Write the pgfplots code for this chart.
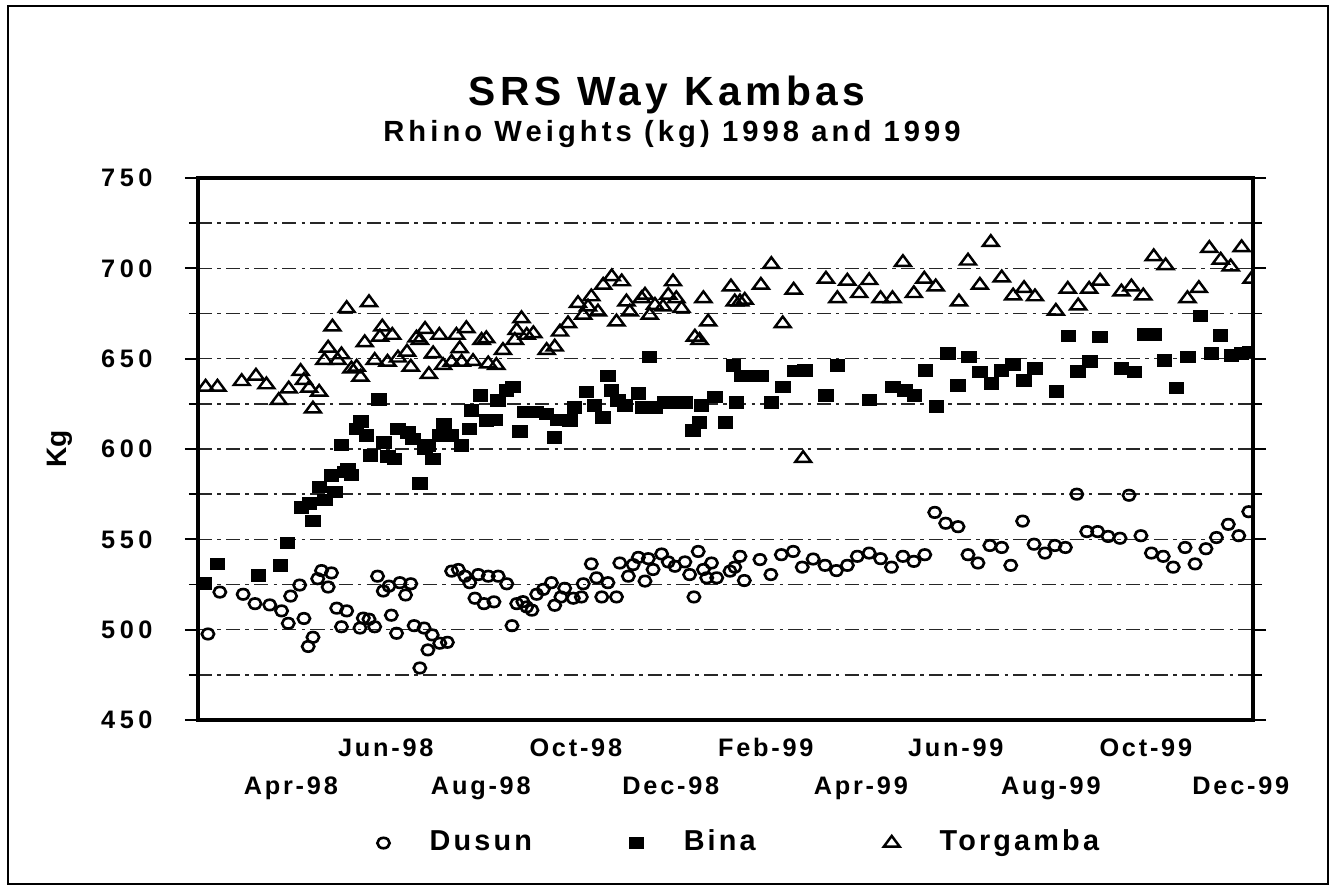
\documentclass[border=0pt]{standalone}
\usepackage{fontspec}
\setmainfont{Liberation Sans}
\newfontfamily\titlefont[LetterSpace=11]{Liberation Sans}
\newfontfamily\subfont[LetterSpace=14]{Liberation Sans}
\newfontfamily\ytfont[LetterSpace=18]{Liberation Sans}
\newfontfamily\legfont[LetterSpace=11]{Liberation Sans}
\usepackage{pgfplots}
\pgfplotsset{compat=1.18}

\pgfplotstableread{
m v
1.34 497.6
1.59 520.8
2.08 519.6
2.33 514.4
2.64 513.7
2.89 510.4
3.03 503.5
3.08 518.6
3.27 524.7
3.36 506.2
3.45 490.7
3.55 495.8
3.65 528.2
3.73 532.7
3.87 523.6
3.94 531.4
4.05 511.9
4.15 501.6
4.26 510.4
4.54 500.9
4.61 506.4
4.73 505.8
4.85 501.6
4.91 529.6
5.03 521.4
5.15 524.1
5.20 508.0
5.31 498.0
5.38 526.0
5.50 519.2
5.61 525.4
5.68 502.2
5.80 478.8
5.89 500.9
5.97 488.8
6.06 497.1
6.22 492.5
6.38 493.0
6.47 532.4
6.61 533.3
6.75 529.6
6.85 526.0
6.96 517.4
7.03 530.5
7.15 514.4
7.24 529.6
7.36 515.4
7.45 529.6
7.63 525.4
7.74 502.2
7.84 514.4
7.97 515.5
8.05 512.6
8.16 510.8
8.26 519.6
8.40 522.3
8.57 526.0
8.64 513.5
8.77 518.1
8.85 522.9
9.03 517.4
9.20 518.1
9.24 525.4
9.41 536.4
9.52 528.7
9.63 518.1
9.76 526.0
9.94 518.1
10.01 536.9
10.19 529.6
10.29 536.0
10.40 540.0
10.54 526.9
10.61 539.3
10.71 533.3
10.89 541.9
11.03 537.5
11.17 535.1
11.38 537.5
11.48 530.5
11.57 518.1
11.66 543.3
11.77 533.3
11.84 528.7
11.94 536.9
12.05 528.7
12.33 532.4
12.43 534.6
12.54 540.6
12.63 527.2
12.96 538.8
13.19 530.5
13.41 541.5
13.66 543.3
13.85 534.6
14.08 539.1
14.33 535.6
14.57 532.7
14.80 535.6
15.01 540.6
15.26 542.4
15.50 539.3
15.73 534.6
15.97 540.6
16.20 537.8
16.43 541.5
16.64 564.9
16.87 558.9
17.13 557.0
17.34 541.5
17.55 536.9
17.80 546.6
18.05 545.5
18.24 535.6
18.49 560.1
18.73 547.3
18.96 542.4
19.17 546.6
19.39 545.5
19.63 575.0
19.84 554.3
20.07 554.3
20.29 551.6
20.54 550.6
20.73 574.4
20.98 552.0
21.20 542.4
21.45 540.6
21.66 534.6
21.91 545.5
22.12 536.4
22.35 544.8
22.57 551.0
22.82 558.3
23.04 552.0
23.25 565.3
}\dusun

\pgfplotstableread{
m v
1.27 525.4
1.54 536.4
2.40 530.0
2.87 535.5
3.01 547.9
3.31 567.5
3.48 569.8
3.55 560.1
3.69 579.0
3.80 571.7
3.94 585.4
4.01 576.2
4.15 602.2
4.22 587.2
4.29 588.9
4.36 585.7
4.47 611.1
4.56 615.2
4.68 607.4
4.76 596.3
4.94 627.4
5.05 603.7
5.13 596.0
5.27 594.4
5.34 611.1
5.55 609.3
5.66 605.6
5.80 580.8
5.91 600.0
5.98 601.9
6.08 594.4
6.22 607.4
6.31 613.9
6.47 607.4
6.68 601.9
6.85 611.1
6.89 621.3
7.08 629.6
7.20 615.7
7.38 616.0
7.45 626.9
7.63 632.4
7.76 634.3
7.91 609.6
8.01 620.4
8.26 620.4
8.47 619.4
8.64 606.5
8.71 616.0
8.96 615.7
9.06 623.1
9.31 631.5
9.48 624.1
9.66 617.6
9.76 640.4
9.84 632.4
9.97 626.9
10.12 624.1
10.40 630.6
10.50 623.1
10.64 650.9
10.75 623.1
10.96 625.9
11.17 625.9
11.38 625.9
11.55 610.2
11.69 614.8
11.73 624.1
12.01 628.7
12.24 614.8
12.40 646.3
12.47 625.9
12.57 640.4
12.78 640.4
12.99 640.4
13.20 625.9
13.45 634.3
13.69 643.1
13.91 643.5
14.35 629.6
14.59 646.3
15.27 627.2
15.76 634.3
16.01 632.4
16.21 629.6
16.45 643.5
16.68 623.5
16.92 652.8
17.13 635.2
17.36 650.9
17.59 642.6
17.84 636.1
18.05 643.5
18.29 646.7
18.52 638.0
18.75 644.4
19.20 631.9
19.45 662.6
19.66 643.0
19.91 648.5
20.12 662.0
20.57 644.4
20.84 642.6
21.06 663.3
21.27 663.3
21.48 649.1
21.73 633.7
21.97 650.9
22.24 673.7
22.47 652.8
22.66 663.0
22.89 651.9
23.10 652.8
23.27 653.7
}\bina

\pgfplotstableread{
m v
1.29 634.3
1.54 634.3
2.05 637.4
2.35 640.4
2.57 635.6
2.83 626.9
3.04 633.3
3.29 643.0
3.36 638.0
3.47 633.7
3.55 622.2
3.68 631.5
3.79 649.1
3.87 655.9
3.96 667.6
4.07 649.1
4.15 652.2
4.26 677.8
4.36 644.4
4.47 645.4
4.55 639.8
4.64 658.9
4.73 681.1
4.85 649.1
4.96 662.0
5.01 667.6
5.12 648.1
5.22 663.0
5.34 650.4
5.53 653.7
5.61 645.4
5.73 661.5
5.80 660.2
5.91 666.3
5.99 641.3
6.08 652.8
6.21 663.0
6.29 646.3
6.47 648.1
6.57 663.0
6.64 655.6
6.68 648.1
6.78 666.7
6.92 648.5
7.10 660.2
7.20 661.1
7.24 647.2
7.41 646.3
7.55 654.6
7.80 660.2
7.84 665.7
7.94 672.2
8.05 663.0
8.19 663.9
8.47 654.6
8.64 656.5
8.75 664.8
8.92 669.4
9.13 680.6
9.24 674.1
9.34 678.7
9.41 684.3
9.55 675.9
9.66 690.7
9.84 695.4
9.94 670.4
10.05 692.6
10.15 681.5
10.22 675.9
10.47 683.3
10.54 685.2
10.64 674.1
10.75 679.6
10.92 678.7
11.03 685.2
11.13 692.6
11.20 683.3
11.31 677.8
11.59 662.0
11.69 660.2
11.77 683.3
11.87 670.4
12.35 689.8
12.43 681.5
12.54 681.5
12.64 682.4
12.98 690.7
13.20 702.2
13.44 669.4
13.67 688.0
13.87 594.8
14.35 694.1
14.59 683.3
14.80 693.0
15.05 686.1
15.26 693.3
15.50 683.3
15.75 683.3
15.97 703.3
16.20 686.1
16.42 694.1
16.66 689.8
17.15 681.5
17.34 704.1
17.59 690.7
17.82 714.4
18.05 694.8
18.29 684.8
18.52 688.9
18.75 684.3
19.19 676.3
19.44 688.5
19.66 679.3
19.89 688.5
20.12 693.0
20.57 687.0
20.78 689.8
21.03 684.8
21.25 706.5
21.50 701.5
21.96 683.3
22.20 688.9
22.42 711.1
22.66 704.6
22.87 700.9
23.10 711.5
23.31 694.1
}\torgamba

\begin{document}
\begin{tikzpicture}
\path[use as bounding box] (0,0) rectangle (13.34cm,8.92cm);
\draw[line width=0.6pt] (0.08cm,0.08cm) rectangle (13.28cm,8.86cm);
\node[font=\titlefont\bfseries\fontsize{11.6}{13}\selectfont, anchor=base, inner sep=0pt] at (6.67cm,7.86cm) {SRS Way Kambas};
\node[font=\subfont\bfseries\fontsize{8.3}{10}\selectfont, anchor=base, inner sep=0pt] at (6.72cm,7.50cm) {Rhino Weights (kg) 1998 and 1999};
\begin{axis}[
  at={(1.98cm,1.72cm)}, anchor=south west,
  scale only axis, width=10.55cm, height=5.42cm,
  xmin=1.13, xmax=23.34, ymin=450, ymax=750,
  axis line style={line width=1pt},
  ytick={450,500,...,750},
  minor ytick={475,525,...,725},
  ymajorgrids, yminorgrids,
  major grid style={black!85, line width=0.4pt, dash pattern=on 4pt off 1.5pt on 1pt off 1.5pt},
  minor grid style={black!85, line width=0.4pt, dash pattern=on 4pt off 1.5pt on 1pt off 1.5pt},
  tick align=outside,
  major tick length=0.13cm, minor tick length=0.09cm,
  ytick style={black, line width=0.5pt},
  xtick style={draw=none},
  xtick={5,9,13,17,21},
  xticklabels={Jun-98,Oct-98,Feb-99,Jun-99,Oct-99},
  extra x ticks={3,7,11,15,19,23},
  extra x tick labels={Apr-98,Aug-98,Dec-98,Apr-99,Aug-99,Dec-99},
  extra x tick style={grid=none, xtick style={draw=none}, xticklabel style={yshift=-0.38cm}},
  xticklabel style={font=\legfont\bfseries\fontsize{7.2}{8.4}\selectfont, yshift=0.07cm, xshift=0.04cm},
  yticklabel shift=0.2cm,
  yticklabel style={font=\ytfont\bfseries\fontsize{7.2}{8.4}\selectfont, anchor=east},
  /pgf/number format/assume math mode=true,
  ylabel={Kg},
  ylabel style={font=\bfseries\fontsize{8}{9}\selectfont, at={(axis description cs:-0.131,0.5)}, anchor=center},
  legend columns=3,
  legend style={at={(0.170,-0.227)}, anchor=west, draw=none, fill=none, inner sep=0pt, outer sep=0pt,
    font=\legfont\bfseries\fontsize{8.2}{9.6}\selectfont,
    /tikz/every odd column/.append style={column sep=0.33cm}},
  clip marker paths=true,
]
\addplot[only marks, mark=o, mark size=1.75pt, mark options={yscale=0.85, line width=0.75pt, black}] table[x=m,y=v] {\dusun};
\addlegendentry{\makebox[1.93cm][l]{Dusun}}
\addplot[only marks, mark=square*, mark size=2pt, mark options={yscale=0.8, black, fill=black}] table[x=m,y=v] {\bina};
\addlegendentry{\makebox[1.93cm][l]{Bina}}
\addplot[only marks, mark=triangle, mark size=2.6pt, mark options={yscale=0.78, line width=0.7pt, black}] table[x=m,y=v] {\torgamba};
\addlegendentry{\makebox[1.93cm][l]{Torgamba}}
\end{axis}
\end{tikzpicture}
\end{document}
